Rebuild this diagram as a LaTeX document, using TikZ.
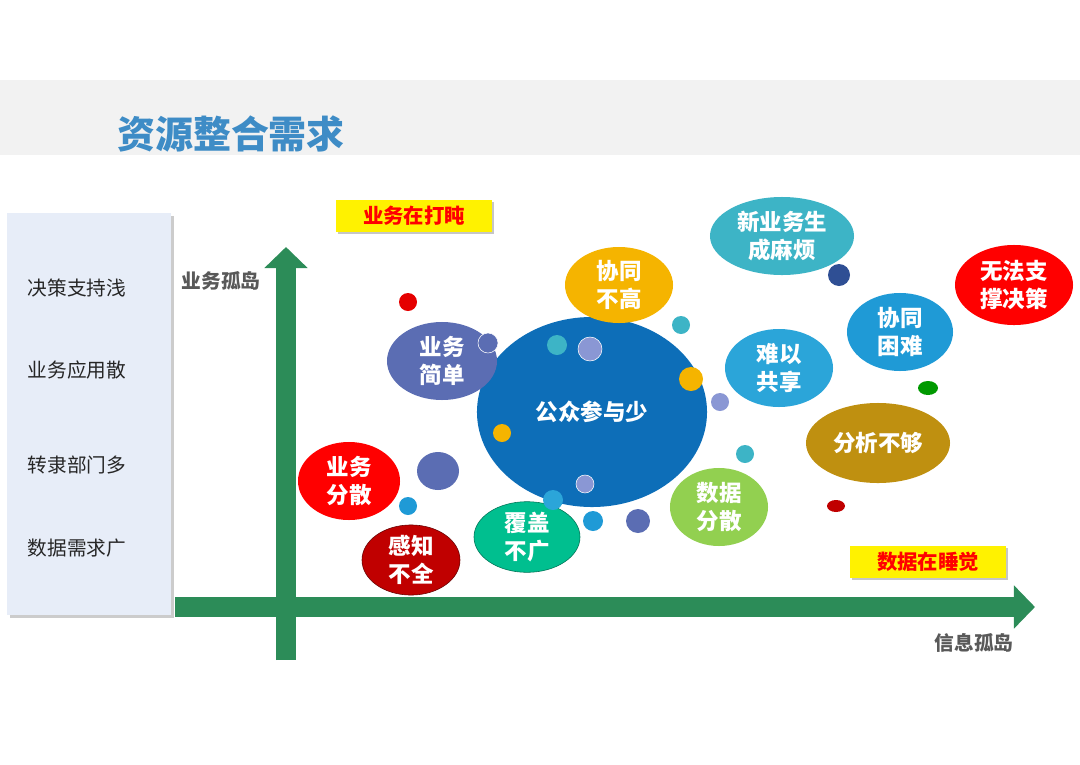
\documentclass[tikz,border=0pt]{standalone}
\usepackage{fontspec}
\setmainfont{Noto Sans CJK SC}
\usetikzlibrary{arrows.meta, shapes.geometric, shadows}
\definecolor{axgreen}{RGB}{44,140,88}
\definecolor{ttlblue}{RGB}{62,140,198}
\definecolor{band}{RGB}{242,242,242}
\definecolor{panelbg}{RGB}{231,237,248}
\definecolor{cOrange}{RGB}{245,180,0}
\definecolor{cTeal}{RGB}{61,180,198}
\definecolor{cBlue}{RGB}{31,154,214}
\definecolor{cSky}{RGB}{43,165,217}
\definecolor{cOlive}{RGB}{191,144,16}
\definecolor{cLime}{RGB}{146,208,80}
\definecolor{cDeep}{RGB}{13,110,184}
\definecolor{cSlate}{RGB}{91,109,179}
\definecolor{cLav}{RGB}{138,151,212}
\definecolor{cNavy}{RGB}{47,79,148}
\definecolor{cDarkRed}{RGB}{192,0,0}
\definecolor{cMint}{RGB}{0,191,143}
\begin{document}
\begin{tikzpicture}[x=0.025cm, y=-0.025cm,
  bub/.style={ellipse, inner sep=0pt, text=white, align=center, font=\bfseries\fontsize{16}{20}\selectfont},
  tag/.style={fill=yellow, minimum width=3.9cm, minimum height=0.8cm, text=red, font=\bfseries\fontsize{14.5}{16}\selectfont, drop shadow={shadow xshift=1.5pt, shadow yshift=-1.5pt, opacity=0.45}},
  ax/.style={axgreen, line width=14.5pt, -{Triangle[width=30pt,length=15pt]}},
  axl/.style={text=black!65, font=\bfseries\fontsize{14}{16}\selectfont},
  side/.style={text=black!85, font=\fontsize{14}{16}\selectfont}
]
\useasboundingbox (0,0) rectangle (1080,764);
\fill[band] (0,80) rectangle (1080,155);
\node[text=ttlblue, font=\bfseries\fontsize{27}{30}\selectfont] (title) at (231,134) {资源整合需求};

% left panel
\node[fill=panelbg, minimum width=4.1cm, minimum height=10.05cm, inner sep=0pt,
  drop shadow={shadow xshift=2pt, shadow yshift=-2pt, opacity=0.4}] (panel) at (89,414) {};
\node[side] (s1) at (77,288) {决策支持浅};
\node[side] (s2) at (77,370) {业务应用散};
\node[side] (s3) at (77,465) {转隶部门多};
\node[side] (s4) at (77,548) {数据需求广};

% axes
\coordinate (yb) at (286,660);
\coordinate (yt) at (286,247);
\coordinate (xb) at (175,607);
\coordinate (xt) at (1035,607);
\draw[ax] (yb) -- (yt);
\draw[ax] (xb) -- (xt);
\node[axl] (ylab) at (221,281) {业务孤岛};
\node[axl] (xlab) at (974,643) {信息孤岛};

\node[tag] (nap) at (414,216) {业务在打盹};
\node[tag] (sleep) at (928,562) {数据在睡觉};

% bubbles
\node[bub, fill=cDeep, minimum width=5.75cm, minimum height=4.75cm] (gzcy) at (592,412) {公众参与少};
\node[bub, fill=cOrange, minimum width=2.7cm, minimum height=1.9cm] (xtbg) at (619,285) {协同\\不高};
\node[bub, fill=cTeal, minimum width=3.6cm, minimum height=1.95cm] (xyw) at (782,236) {新业务生\\成麻烦};
\node[bub, fill=red, minimum width=2.95cm, minimum height=2cm] (wfzc) at (1014,285) {无法支\\撑决策};
\node[bub, fill=cBlue, minimum width=2.65cm, minimum height=1.95cm] (xtkn) at (900,332) {协同\\困难};
\node[bub, fill=cSky, minimum width=2.7cm, minimum height=1.95cm] (nygx) at (779,368) {难以\\共享};
\node[bub, fill=cOlive, minimum width=3.6cm, minimum height=2cm] (fxbg) at (878,443) {分析不够};
\node[bub, fill=cLime, minimum width=2.45cm, minimum height=1.95cm] (sjfs) at (719,507) {数据\\分散};
\node[bub, fill=cSlate, minimum width=2.75cm, minimum height=1.95cm] (ywjd) at (442,361) {业务\\简单};
\node[bub, fill=red, minimum width=2.55cm, minimum height=1.95cm] (ywfs) at (349,481) {业务\\分散};
\node[bub, fill=cDarkRed, draw=red!40!black, minimum width=2.45cm, minimum height=1.65cm] (gzbq) at (411,560) {感知\\不全};
\node[bub, fill=cMint, draw=cMint!60!black, minimum width=2.65cm, minimum height=1.75cm] (fgbg) at (527,537) {覆盖\\不广};

% small dots
\fill[red!90!black] (408,302) circle (9);
\filldraw[fill=cSlate, draw=white, thin] (488,343) circle (10);
\fill[cTeal] (557,345) circle (10);
\filldraw[fill=cLav, draw=white, thin] (590,349) circle (12);
\fill[cTeal] (681,325) circle (9);
\fill[cOrange] (691,379) circle (12);
\fill[cLav] (720,402) circle (9);
\fill[cOrange] (502,433) circle (9);
\fill[cTeal] (745,454) circle (9);
\fill[cNavy] (839,275) circle (11);
\fill[green!60!black] (928,388) ellipse (10 and 7);
\fill[cDarkRed] (836,506) ellipse (9 and 6);
\fill[cSlate] (438,471) ellipse (21 and 19);
\fill[cBlue] (408,506) circle (9);
\filldraw[fill=cLav, draw=white, thin] (585,484) circle (9);
\fill[cSky] (553,500) circle (10);
\fill[cBlue] (593,521) circle (10);
\fill[cSlate] (638,521) circle (12);
\end{tikzpicture}
\end{document}
